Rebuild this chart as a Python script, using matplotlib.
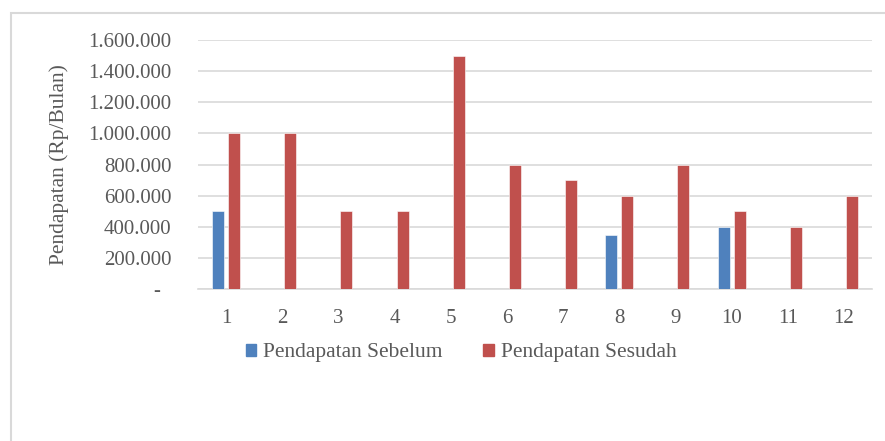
import numpy as np
import matplotlib.pyplot as plt
from matplotlib.patches import Rectangle, Patch
from matplotlib.ticker import FuncFormatter

plt.rcParams['font.family'] = ['Liberation Serif', 'DejaVu Serif']

# data
kategori = ['1', '2', '3', '4', '5', '6', '7', '8', '9', '10', '11', '12']
sebelum = [500000, 0, 0, 0, 0, 0, 0, 350000, 0, 400000, 0, 0]
sesudah = [1000000, 1000000, 500000, 500000, 1500000, 800000, 700000,
           600000, 800000, 500000, 400000, 600000]

W, H = 885, 441
fs = 15
fig = plt.figure(figsize=(W / 100, H / 100), dpi=100)

# outer chart border (cut off at right and bottom like the reference)
fig.patches.append(Rectangle((11 / W, -0.1), 1.2, (H - 13) / H + 0.1,
                             transform=fig.transFigure, fill=False,
                             edgecolor='#d9d9d9', linewidth=1.5))

ax = fig.add_axes([198 / W, (H - 289.3) / H, (872 - 198) / W, (289.3 - 40) / H])

x = np.arange(len(kategori))
bw = 0.215
off = 0.143
ax.bar(x - off, sebelum, bw, color='#4f81bd', edgecolor='white', linewidth=0.4, zorder=3)
ax.bar(x + off, sesudah, bw, color='#c0504d', edgecolor='white', linewidth=0.4, zorder=3)

ax.set_xlim(-0.5, len(kategori) - 0.5)
ax.set_ylim(0, 1600000)
ax.set_yticks(np.arange(0, 1600001, 200000))
ax.set_xticks(x)
ax.set_xticklabels(kategori)


def fmt(v, pos):
    if v == 0:
        return '-  '
    return '{:,.0f}'.format(v).replace(',', '.')


ax.yaxis.set_major_formatter(FuncFormatter(fmt))
ax.grid(axis='y', color='#d9d9d9', linewidth=1.2, zorder=0)
ax.set_axisbelow(True)
for s in ['top', 'right', 'left']:
    ax.spines[s].set_visible(False)
ax.spines['bottom'].set_color('#d9d9d9')
ax.spines['bottom'].set_linewidth(1.2)
ax.tick_params(axis='both', length=0, labelsize=fs, colors='#595959')
ax.tick_params(axis='y', pad=19)
ax.tick_params(axis='x', pad=14)

ax.set_ylabel('Pendapatan (Rp/Bulan)', fontsize=fs + 0.5, color='#595959')
ax.yaxis.set_label_coords((69 - 198) / (872 - 198), (289.3 - 165) / (289.3 - 40))

handles = [Patch(color='#4f81bd', label='Pendapatan Sebelum'),
           Patch(color='#c0504d', label='Pendapatan Sesudah')]
fig.legend(handles=handles, loc='center', bbox_to_anchor=(461 / W, (H - 353) / H),
           ncol=2, frameon=False, fontsize=fs + 0.5, handlelength=0.5, handleheight=0.5,
           handletextpad=0.3, columnspacing=1.9, labelcolor='#595959')

fig.savefig('out.png', dpi=100)
